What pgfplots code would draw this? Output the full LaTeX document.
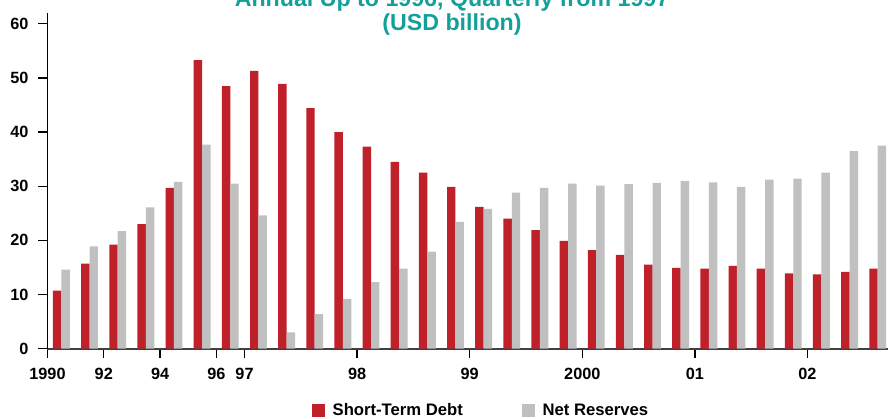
\documentclass[border=0pt]{standalone}
\usepackage{fontspec}
\setmainfont{Liberation Sans}
\usepackage{pgfplots}
\usepackage{pgfplotstable}
\pgfplotsset{compat=1.18}
\definecolor{debtred}{HTML}{C0202A}
\definecolor{resgray}{HTML}{C0C0C0}
\definecolor{titleteal}{HTML}{14A09A}

% slot centre, short-term debt, net reserves (USD bn)
\pgfplotstableread{
x    debt  reserves
0.5  10.7  14.6
1.5  15.7  18.9
2.5  19.2  21.7
3.5  23.0  26.1
4.5  29.7  30.8
5.5  53.3  37.7
6.5  48.5  30.5
7.5  51.3  24.6
8.5  48.9  3.0
9.5  44.4  6.4
10.5 40.0  9.2
11.5 37.3  12.3
12.5 34.5  14.8
13.5 32.5  17.9
14.5 29.9  23.4
15.5 26.2  25.8
16.5 24.0  28.8
17.5 21.9  29.7
18.5 19.9  30.5
19.5 18.2  30.1
20.5 17.3  30.4
21.5 15.5  30.6
22.5 14.9  31.0
23.5 14.8  30.7
24.5 15.3  29.9
25.5 14.8  31.2
26.5 13.9  31.4
27.5 13.7  32.5
28.5 14.2  36.5
29.5 14.8  37.5
}\stdata

\begin{document}
\begin{tikzpicture}
\begin{axis}[
  at={(0,0)}, anchor=south west,
  scale only axis,
  width=630.4pt, height=251.8pt,
  xmin=0, xmax=29.86,
  ymin=0, ymax=62,
  axis lines*=left,
  x axis line style={draw=black!75, line width=1.4pt},
  y axis line style={draw=black, line width=1pt},
  tick align=outside,
  major tick length=6.75pt,
  tick style={draw=black, line width=1pt},
  xtick={0,2,4,6,7,11,15,19,23,27},
  xticklabels={1990,92,94,96,97,98,99,2000,01,02},
  ytick={0,10,...,60},
  /pgf/number format/assume math mode=true,
  ticklabel style={font=\bfseries\fontsize{12.2}{14}\selectfont},
  yticklabel style={xshift=-4pt},
  xticklabel style={yshift=-4.5pt},
  legend columns=2,
  legend style={at={(0.314,-0.184)}, anchor=west, draw=none, fill=none,
    inner sep=0pt, font=\bfseries\fontsize{12.5}{14}\selectfont,
    nodes={inner xsep=6pt},
    /tikz/every even column/.append style={column sep=38pt}},
]
\addplot[ybar, bar width=0.3, bar shift=-0.155, fill=debtred, draw=none,
  legend image code/.code={\path[fill=debtred] (0pt,-4.875pt) rectangle (9.75pt,4.875pt);}]
  table[x=x, y=debt] {\stdata};
\addlegendentry{Short-Term Debt}
\addplot[ybar, bar width=0.3, bar shift=0.145, fill=resgray, draw=none,
  legend image code/.code={\path[fill=resgray] (0pt,-4.875pt) rectangle (9.75pt,4.875pt);}]
  table[x=x, y=reserves] {\stdata};
\addlegendentry{Net Reserves}
\end{axis}
\node[anchor=base, text=titleteal, font=\bfseries\fontsize{17.4}{20}\selectfont, inner sep=0pt]
  at (303.4pt,256.3pt) {Annual Up to 1996, Quarterly from 1997};
\node[anchor=base, text=titleteal, font=\bfseries\fontsize{17.4}{20}\selectfont, inner sep=0pt]
  at (303.4pt,238.3pt) {(USD billion)};
\pgfresetboundingbox
\useasboundingbox (-35.6pt,-52.7pt) rectangle (630.4pt,261.5pt);
\end{tikzpicture}
\end{document}
